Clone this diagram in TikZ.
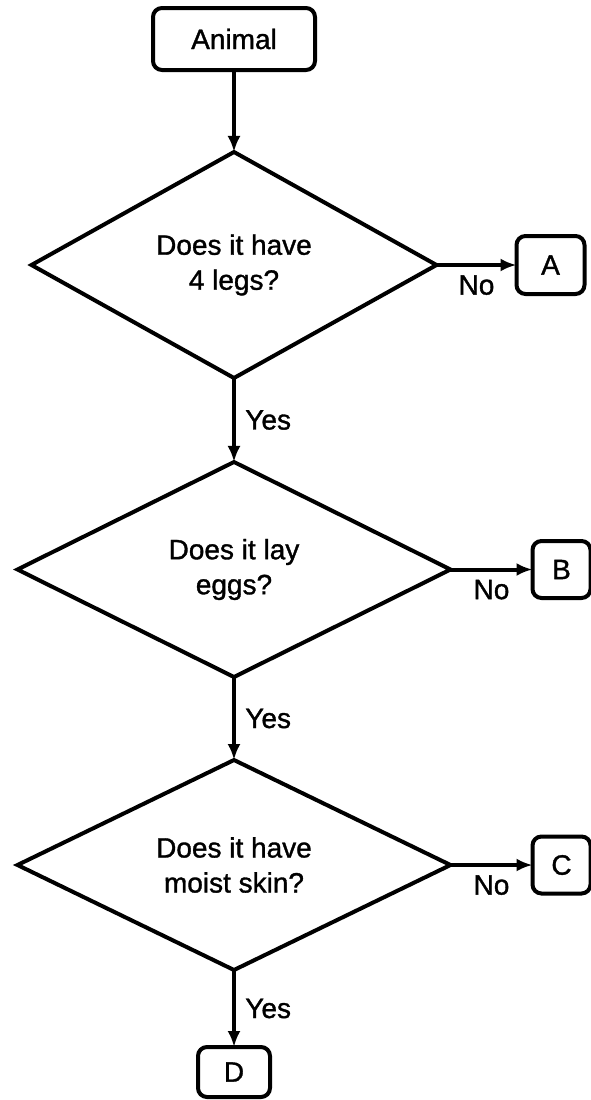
\documentclass[tikz,border=0pt]{standalone}
\usepackage{fontspec}
\setmainfont{Liberation Sans}
\newfontfamily\flowfont{Liberation Sans}[FakeBold=1.2]
\usetikzlibrary{positioning,shapes.geometric,arrows.meta}

\begin{document}
\begin{tikzpicture}[x=1pt,y=1pt,line width=4pt,
        font=\flowfont\fontsize{28}{35}\selectfont,
        box/.style={draw,rounded corners=9pt,inner sep=0pt,outer sep=0pt},
        decision/.style={draw,diamond,aspect=2,inner sep=0pt,outer sep=0pt,align=center},
        flow/.style={-{Latex[length=16pt,width=13pt]}}]
    \useasboundingbox (0,0) rectangle (590,-1100);

    \node[box,minimum width=162pt,minimum height=62pt] (animal) at (234,-39) {Animal};
    \node[decision,minimum width=405pt,minimum height=226pt,below=82pt of animal] (legs) {Does it have\\4 legs?};
    \node[decision,minimum width=433pt,minimum height=215pt,below=84pt of legs] (eggs) {Does it lay\\eggs?};
    \node[decision,minimum width=433pt,minimum height=210pt,below=83pt of eggs] (skin) {Does it have\\moist skin?};

    \node[box,minimum width=68pt,minimum height=58pt,right=80pt of legs] (a) {A};
    \node[box,minimum width=58pt,minimum height=57pt,right=82pt of eggs] (b) {B};
    \node[box,minimum width=58pt,minimum height=57pt,right=82pt of skin] (c) {C};
    \node[box,minimum width=72pt,minimum height=50pt,below=77pt of skin] (d) {D};

    \draw[flow] (animal) -- (legs);
    \draw[flow] (legs) -- node[below=5pt] {No} (a);
    \draw[flow] (eggs) -- node[below=5pt] {No} (b);
    \draw[flow] (skin) -- node[below=5pt] {No} (c);
    \draw[flow] (legs) -- node[right=6pt] {Yes} (eggs);
    \draw[flow] (eggs) -- node[right=6pt] {Yes} (skin);
    \draw[flow] (skin) -- node[right=6pt] {Yes} (d);
\end{tikzpicture}
\end{document}
